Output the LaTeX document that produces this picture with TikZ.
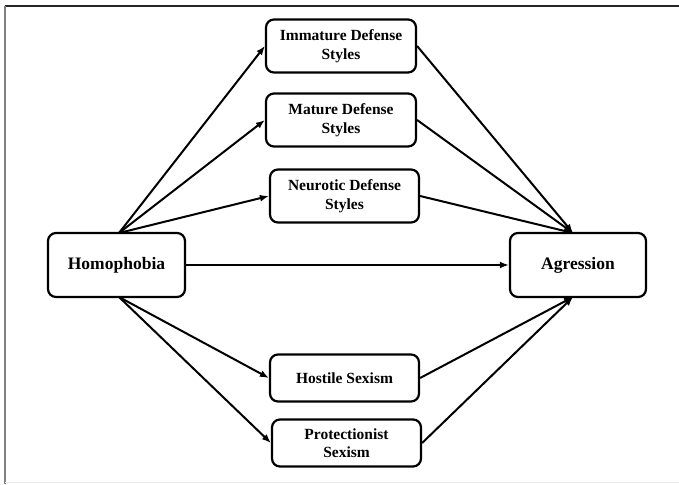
\documentclass[tikz,border=0pt]{standalone}
\usepackage{fontspec}
\setmainfont{Liberation Serif}
\usetikzlibrary{arrows.meta}
\begin{document}
\begin{tikzpicture}[x=1pt,y=-1pt,
  box/.style={draw=black, line width=2.2pt, rounded corners=8pt, fill=white, align=center, font=\fontsize{15.5}{18.5}\selectfont\bfseries, inner sep=0pt},
  bigbox/.style={box, font=\fontsize{17.5}{20}\selectfont\bfseries},
  arr/.style={line width=2pt, -{Latex[length=9pt,width=7pt]}},
  ln/.style={line width=2pt}]
\useasboundingbox (0,0) rectangle (679,484);
\fill[white] (0,0) rectangle (679,484);
\draw[line width=1.5pt, color=black!85] (5,6) -- (679,6);
\draw[line width=1.5pt, color=black!50] (5,6) -- (5,484);
\draw[line width=1pt, color=black!8] (5,482.5) -- (679,482.5);

\node[bigbox, minimum width=137pt, minimum height=64pt] (hom) at (116.5,265) {Homophobia};
\node[bigbox, minimum width=136pt, minimum height=64pt] (agr) at (578,265) {Agression};
\node[box, minimum width=150pt, minimum height=53pt] (imm) at (341,46) {Immature Defense\\Styles};
\node[box, minimum width=150pt, minimum height=53pt] (mat) at (341,120) {Mature Defense\\Styles};
\node[box, minimum width=149pt, minimum height=53pt] (neu) at (344.5,196) {Neurotic Defense\\Styles};
\node[box, minimum width=149pt, minimum height=47pt] (hos) at (344.5,378) {Hostile Sexism};
\node[box, minimum width=149pt, minimum height=47pt] (pro) at (346.5,443) {Protectionist\\Sexism};

\coordinate (ht) at (119,233);
\coordinate (hb) at (119,297);
\coordinate (at) at (573,233);
\coordinate (ab) at (573,297);

\draw[arr] (ht) -- (imm.west);
\draw[arr] (ht) -- (mat.west);
\draw[arr] (ht) -- (neu.west);
\draw[arr] (hb) -- (hos.west);
\draw[arr] (hb) -- (pro.west);
\draw[arr] (hom.east) -- (agr.west);

\draw[arr] (imm.east) -- (at);
\draw[arr] (mat.east) -- (at);
\draw[arr] (neu.east) -- (at);
\draw[arr] (hos.east) -- (ab);
\draw[arr] (pro.east) -- (ab);
\end{tikzpicture}
\end{document}
